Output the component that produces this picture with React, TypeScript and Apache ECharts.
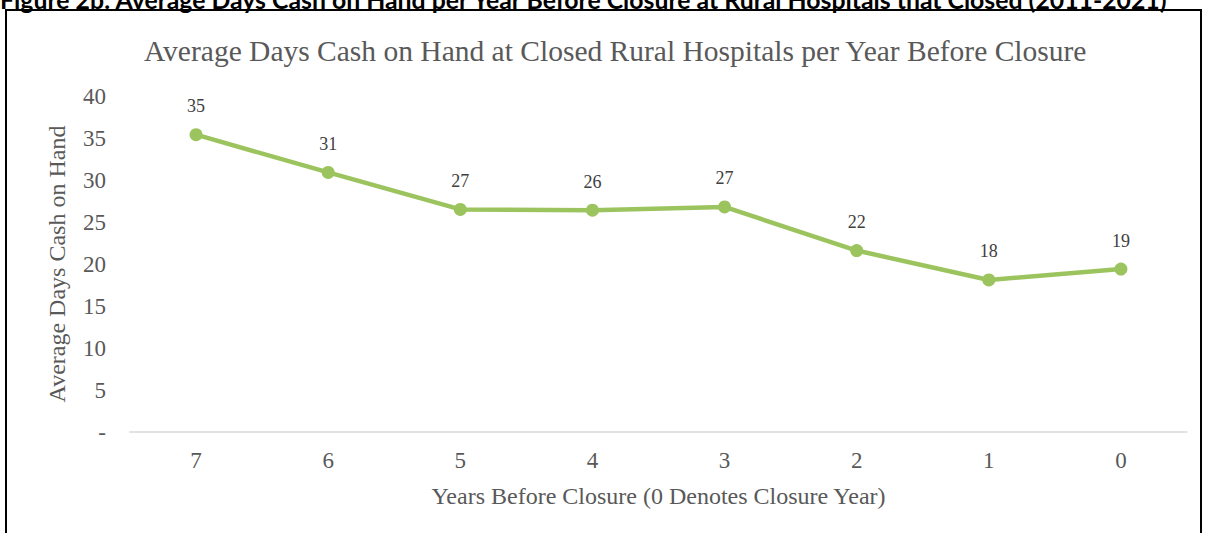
import React, { useEffect, useRef } from "react";
import * as echarts from "echarts";

// Years before closure (0 = closure year) and average days cash on hand
const years = ["7", "6", "5", "4", "3", "2", "1", "0"];
const daysCash = [35.4, 30.9, 26.5, 26.4, 26.8, 21.6, 18.1, 19.4];
const yTicks = [0, 5, 10, 15, 20, 25, 30, 35, 40];

const headerText =
  "Figure 2b: Average Days Cash on Hand per Year Before Closure at Rural Hospitals that Closed (2011-2021)";
const chartTitle =
  "Average Days Cash on Hand at Closed Rural Hospitals per Year Before Closure";

const serif = "'Liberation Serif', 'Times New Roman', serif";
const textGray = "#595959";

export default function App() {
  const ref = useRef<HTMLDivElement>(null);

  useEffect(() => {
    if (!ref.current) return;
    const chart = echarts.init(ref.current, undefined, { renderer: "svg" });
    chart.setOption({
      animation: false,
      backgroundColor: "#ffffff",
      graphic: [
        {
          type: "text",
          x: 0,
          y: -1,
          style: {
            text: headerText,
            font: "bold 24.8px Lato, 'Open Sans', sans-serif",
            fill: "#000000",
            verticalAlign: "middle",
          },
        },
        {
          type: "rect",
          shape: { x: 6, y: 10, width: 1195, height: 540 },
          style: { fill: "#ffffff", stroke: "#000000", lineWidth: 2 },
          z: -1,
        },
      ],
      title: {
        text: chartTitle,
        left: 139,
        top: 31,
        textStyle: {
          fontFamily: serif,
          fontSize: 29.5,
          fontWeight: "normal",
          color: textGray,
        },
      },
      grid: { left: 130, right: 20, top: 96, bottom: 101 },
      xAxis: {
        type: "category",
        data: years,
        boundaryGap: true,
        name: "Years Before Closure (0 Denotes Closure Year)",
        nameLocation: "middle",
        nameGap: 52,
        nameTextStyle: { fontFamily: serif, fontSize: 24, color: textGray },
        axisLine: { lineStyle: { color: "#d9d9d9", width: 1.5 } },
        axisTick: { show: false },
        axisLabel: {
          fontFamily: serif,
          fontSize: 23,
          color: textGray,
          margin: 17,
        },
      },
      yAxis: {
        type: "value",
        min: yTicks[0],
        max: yTicks[yTicks.length - 1],
        interval: 5,
        name: "Average Days Cash on Hand",
        nameLocation: "middle",
        nameGap: 61,
        nameRotate: 90,
        nameTextStyle: { fontFamily: serif, fontSize: 24, color: textGray },
        axisLine: { show: false },
        axisTick: { show: false },
        splitLine: { show: false },
        axisLabel: {
          fontFamily: serif,
          fontSize: 23,
          color: textGray,
          margin: 24,
          formatter: (v: number) => (v === 0 ? "-" : String(v)),
        },
      },
      series: [
        {
          type: "line",
          data: daysCash,
          symbol: "circle",
          symbolSize: 13,
          lineStyle: { color: "#9cc45e", width: 4.5 },
          itemStyle: { color: "#9cc45e" },
          label: {
            show: true,
            position: "top",
            distance: 13,
            fontFamily: serif,
            fontSize: 18,
            color: "#404040",
            formatter: (p: any) => String(Math.round(p.value)),
          },
        },
      ],
    });
    return () => chart.dispose();
  }, []);

  return (
    <div
      ref={ref}
      style={{ position: "fixed", left: 0, top: 0, width: 1207, height: 533 }}
    />
  );
}
